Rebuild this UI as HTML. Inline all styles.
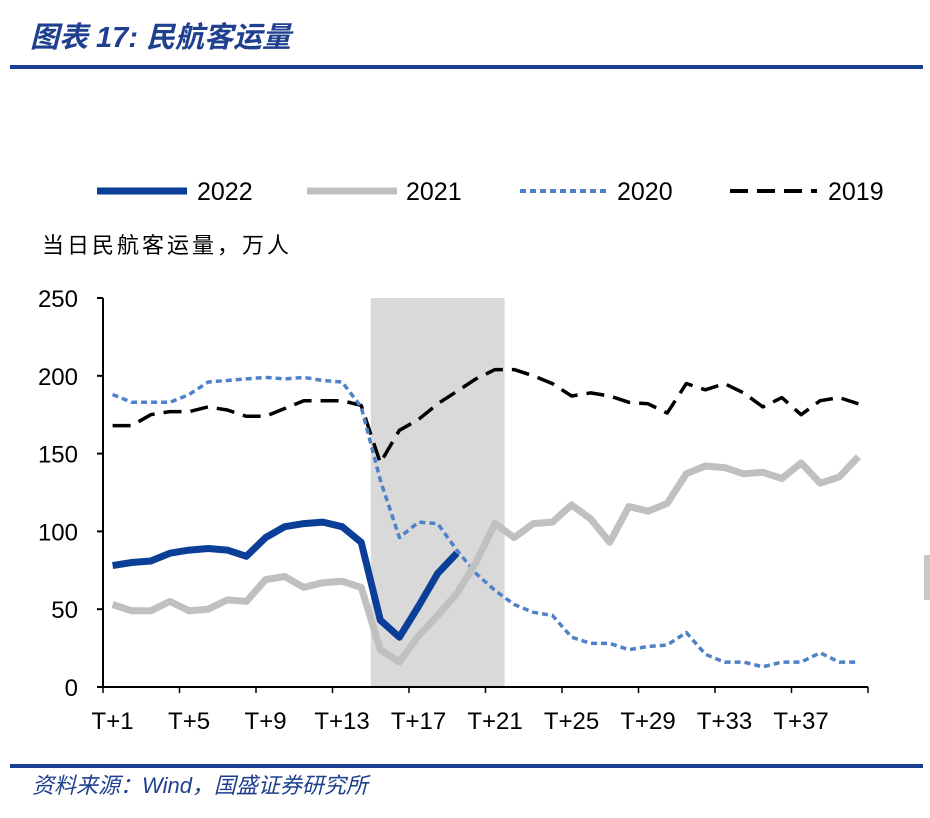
<!DOCTYPE html>
<html><head><meta charset="utf-8"><style>
body{margin:0;background:#fff;width:930px;height:813px;overflow:hidden;font-family:"Liberation Sans","Noto Sans CJK SC",sans-serif}
</style></head><body>
<svg width="930" height="813" xmlns="http://www.w3.org/2000/svg" font-family="Liberation Sans, Noto Sans CJK SC, sans-serif">
<text x="30" y="47" font-size="29" font-weight="bold" font-style="italic" fill="#1f3f8f" font-family="Liberation Sans, Noto Sans CJK SC, sans-serif">图表 17:  民航客运量</text>
<rect x="10" y="65" width="913" height="4" fill="#1b3f94"/>
<g id="legend" font-size="25">
<line x1="97" y1="191" x2="187" y2="191" stroke="#0b3f97" stroke-width="7"/>
<text x="197" y="200">2022</text>
<line x1="307" y1="191" x2="397" y2="191" stroke="#c0c0c0" stroke-width="7"/>
<text x="406" y="200">2021</text>
<line x1="520" y1="191" x2="607" y2="191" stroke="#4f81c8" stroke-width="4" stroke-dasharray="6,4"/>
<text x="617" y="200">2020</text>
<line x1="730" y1="191" x2="817" y2="191" stroke="#000" stroke-width="4" stroke-dasharray="18,9"/>
<text x="828" y="200">2019</text>
</g>
<text x="42" y="253" font-size="22" letter-spacing="3">当日民航客运量，万人</text>
<g id="plot"></g>
<rect x="10" y="764" width="913" height="4" fill="#1b3f94"/>
<text x="32" y="793" font-size="22" font-style="italic" fill="#1f3f8f">资料来源：Wind，国盛证券研究所</text>
<rect x="924" y="555" width="6" height="45" fill="#c8c8c8"/>
</svg>
<script>
const categories=[];for(let i=1;i<=40;i++)categories.push('T+'+i);
const yTicks=[0,50,100,150,200,250];
const xTickLabels=['T+1','T+5','T+9','T+13','T+17','T+21','T+25','T+29','T+33','T+37'];
const s2022=[78,80,81,86,88,89,88,84,96,103,105,106,103,93,43,32,52,73,86];
const s2021=[53,49,49,55,49,50,56,55,69,71,64,67,68,64,24,16,33,46,60,80,105,96,105,106,117,108,93,116,113,118,137,142,141,137,138,134,144,131,135,148];
const s2020=[188,183,183,183,188,196,197,198,199,198,199,197,196,180,133,96,106,105,88,73,62,53,48,46,32,28,28,24,26,27,35,21,16,16,13,16,16,22,16,16];
const s2019=[168,168,175,177,177,180,178,174,174,179,184,184,184,181,144,165,172,182,190,198,204,204,200,195,187,189,187,183,182,176,195,191,195,189,180,186,175,184,186,182];
const shadeRange=[15,21];
const X0=103,X1=868,Y0=687,Y1=298,n=categories.length,bw=(X1-X0)/n;
const xs=i=>X0+bw*(i+0.5);
const ys=v=>Y0-(v/250)*(Y0-Y1);
const ns='http://www.w3.org/2000/svg';
const g=document.getElementById('plot');
function mk(t,a){const e=document.createElementNS(ns,t);for(const k in a)e.setAttribute(k,a[k]);g.appendChild(e);return e;}
const sh=mk('rect',{x:X0+bw*(shadeRange[0]-1),y:Y1,width:bw*(shadeRange[1]-shadeRange[0]+1),height:Y0-Y1,fill:'#d9d9d9'});


function line(data,name,attrs){
 const p=data.map((v,i)=>xs(i).toFixed(1)+','+ys(v).toFixed(1)).join(' ');
 const e=mk('polyline',Object.assign({points:p,fill:'none','stroke-linejoin':'round'},attrs));
 
 
}
line(s2019,'series-2019',{stroke:'#000','stroke-width':3.5,'stroke-dasharray':'18,9'});
line(s2020,'series-2020',{stroke:'#4f81c8','stroke-width':3.5,'stroke-dasharray':'6,4'});
line(s2021,'series-2021',{stroke:'#c0c0c0','stroke-width':7});
line(s2022,'series-2022',{stroke:'#0b3f97','stroke-width':7});
const ya=mk('line',{x1:X0,y1:Y1,x2:X0,y2:Y0,stroke:'#000','stroke-width':2});


const xa=mk('line',{x1:X0,y1:Y0,x2:X1,y2:Y0,stroke:'#000','stroke-width':2});


yTicks.forEach(v=>{
 mk('line',{x1:X0-6,y1:ys(v),x2:X0,y2:ys(v),stroke:'#000','stroke-width':2});
 const t=mk('text',{x:X0-25,y:ys(v)+9,'font-size':24,'text-anchor':'end'});t.textContent=v;
 
 
});
for(let i=0;i<=n;i+=4){mk('line',{x1:X0+bw*i,y1:Y0,x2:X0+bw*i,y2:Y0+6,stroke:'#000','stroke-width':1.5});}
xTickLabels.forEach((l,k)=>{
 const t=mk('text',{x:xs(k*4),y:Y0+42,'font-size':24,'text-anchor':'middle'});t.textContent=l;
 
 
});
</script>
</body></html>
